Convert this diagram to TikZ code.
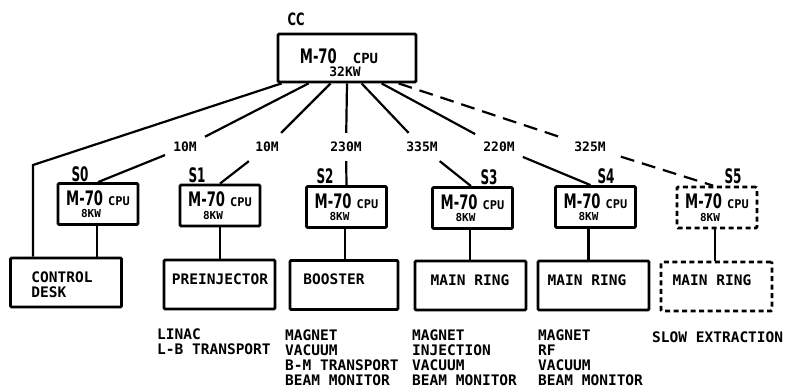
\documentclass[tikz,border=0pt]{standalone}
\usepackage{fontspec}
\usepackage{graphicx}
\usetikzlibrary{calc}
\newfontfamily\twfont{DejaVu Sans Mono}
\newfontfamily\cndfont{DejaVu Sans}
\newcommand{\mseventy}{\scalebox{0.66}[1]{\fontsize{20}{20}\selectfont\cndfont\bfseries M-70}}
\newcommand{\cpusmall}{{\fontsize{12}{12}\selectfont\twfont\bfseries CPU}}
\newcommand{\cpubig}{{\fontsize{14}{14}\selectfont\twfont\bfseries CPU}}
\newcommand{\stlabel}[1]{\scalebox{0.6}[1]{\fontsize{20}{20}\selectfont\cndfont\bfseries #1}}
\tikzset{
  box/.style={draw, line width=2.8pt, rounded corners=1.2pt, inner sep=0pt},
  cpubox/.style={box, minimum width=80pt, minimum height=41pt, align=center,
    font=\fontsize{11}{12.5}\selectfont\twfont\bfseries},
  unitbox/.style={box, minimum width=111pt, minimum height=49pt},
  dashbox/.style={dash pattern=on 5pt off 3.5pt},
  link/.style={line width=2.2pt},
  dist/.style={font=\fontsize{13}{13}\selectfont\twfont\bfseries, inner xsep=8pt, inner ysep=9pt},
  txt/.style={font=\fontsize{14.5}{15}\selectfont\twfont\bfseries, inner sep=0pt, align=left},
  slabel/.style={inner sep=0pt, anchor=base}
}
\begin{document}
\begin{tikzpicture}[x=1pt,y=-1pt]
\fill[white] (0,0) rectangle (786,391);
\useasboundingbox (0,0) rectangle (786,391);

% central computer
\node[box, minimum width=138pt, minimum height=48pt] (cc) at (347,58) {};
\node[slabel, font=\fontsize{13}{13}\selectfont\twfont\bfseries] (ccm) at (339,63) {\mseventy\hspace{16pt}\cpubig};
\node[slabel, font=\fontsize{13}{13}\selectfont\twfont\bfseries] (cck) at (345,76.5) {32KW};
\node[slabel] (cclab) at (296,25) {\scalebox{0.68}[1]{\fontsize{17}{17}\selectfont\cndfont\bfseries CC}};

% station computers
\node[cpubox] (s0) at (98,204) {\mseventy\hspace{5pt}\cpusmall\\8KW\hspace*{14pt}};
\node[cpubox] (s1) at (220,205.5) {\mseventy\hspace{5pt}\cpusmall\\8KW\hspace*{14pt}};
\node[cpubox] (s2) at (346.5,207) {\mseventy\hspace{5pt}\cpusmall\\8KW\hspace*{14pt}};
\node[cpubox] (s3) at (472.5,208) {\mseventy\hspace{5pt}\cpusmall\\8KW\hspace*{14pt}};
\node[cpubox] (s4) at (595.5,207) {\mseventy\hspace{5pt}\cpusmall\\8KW\hspace*{14pt}};
\node[cpubox, dashbox] (s5) at (717,207.5) {\mseventy\hspace{5pt}\cpusmall\\8KW\hspace*{14pt}};

\node[slabel] (l0) at (80,181) {\stlabel{S0}};
\node[slabel] (l1) at (197,182) {\stlabel{S1}};
\node[slabel] (l2) at (325,183) {\stlabel{S2}};
\node[slabel] (l3) at (489,184) {\stlabel{S3}};
\node[slabel] (l4) at (606,183) {\stlabel{S4}};
\node[slabel] (l5) at (733,183.5) {\stlabel{S5}};

% units
\node[unitbox] (cd) at (66,282.5) {};
\node[unitbox] (pre) at (219.5,284.5) {};
\node[unitbox, minimum width=108pt] (boo) at (344,285) {};
\node[unitbox] (mr3) at (470.5,285.5) {};
\node[unitbox] (mr4) at (593.5,285.5) {};
\node[unitbox, dashbox] (mr5) at (716.5,286.5) {};

\node[txt] (cdt) at (62,285) {CONTROL\\DESK};
\node[txt] (pret) at (220,279) {PREINJECTOR};
\node[txt] (boot) at (334,279) {BOOSTER};
\node[txt] (mr3t) at (470,280) {MAIN RING};
\node[txt] (mr4t) at (587,280) {MAIN RING};
\node[txt] (mr5t) at (712,280) {MAIN RING};

% lists
\node[txt, anchor=north west] (li1) at (157,329) {LINAC\\L-B TRANSPORT};
\node[txt, anchor=north west] (li2) at (285,330) {MAGNET\\VACUUM\\B-M TRANSPORT\\BEAM MONITOR};
\node[txt, anchor=north west] (li3) at (412,330) {MAGNET\\INJECTION\\VACUUM\\BEAM MONITOR};
\node[txt, anchor=north west] (li4) at (538,330) {MAGNET\\RF\\VACUUM\\BEAM MONITOR};
\node[txt, anchor=north west] (li5) at (652,332) {SLOW EXTRACTION};

% distance labels
\node[dist] (d0) at (185,147) {10M};
\node[dist] (d1) at (267,147) {10M};
\node[dist] (d2) at (346,147) {230M};
\node[dist] (d3) at (422,147) {335M};
\node[dist] (d4) at (499,147) {220M};
\node[dist, inner xsep=15pt] (d5) at (590,147) {325M};

% links
\coordinate (bend) at (33,165);
\draw[link] ($(cc.south west)+(5,0)$) -- (bend) -- (bend |- cd.north);
\draw[link] ($(cc.south west)+(32,0)$) -- (d0) -- (s0.north);
\draw[link] ($(cc.south west)+(54,0)$) -- (d1) -- (s1.north);
\draw[link] (cc.south) -- (d2) -- (s2.north);
\draw[link] ($(cc.south west)+(85,0)$) -- (d3) -- ($(s3.north)+(-1.5,0)$);
\draw[link] ($(cc.south west)+(105,0)$) -- (d4) -- ($(s4.north)+(-5,0)$);
\draw[link, dash pattern=on 14pt off 8pt] ($(cc.south west)+(122,0)$) -- (d5) -- ($(s5.north)+(-4,0)$);

\coordinate (v0) at ($(s0.south)+(-1,0)$);
\coordinate (v1) at (s1.south);
\coordinate (v2) at ($(s2.south)+(-1.5,0)$);
\coordinate (v3) at ($(s3.south)+(-2.5,0)$);
\coordinate (v4) at ($(s4.south)+(-7,0)$);
\coordinate (v5) at ($(s5.south)+(-2,0)$);
\draw[link] (v0) -- (v0 |- cd.north);
\draw[link] (v1) -- (v1 |- pre.north);
\draw[link] (v2) -- (v2 |- boo.north);
\draw[link] (v3) -- (v3 |- mr3.north);
\draw[link] (v4) -- (v4 |- mr4.north);
\draw[link] (v5) -- (v5 |- mr5.north);
\end{tikzpicture}
\end{document}
